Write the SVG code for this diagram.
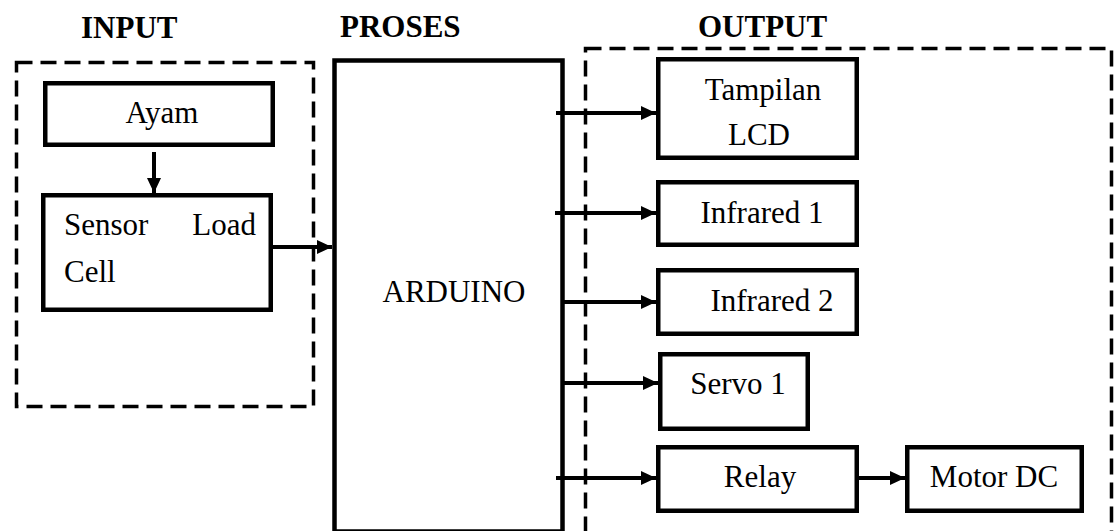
<svg xmlns="http://www.w3.org/2000/svg" width="1115" height="531" viewBox="0 0 1115 531">
<style>
.box{fill:#fff;stroke:#000;stroke-width:4.5}
.dash{fill:none;stroke:#000;stroke-width:3.5;stroke-dasharray:16 8}
.t{font-family:"Liberation Serif","Times New Roman",serif;font-size:31px;fill:#000}
.h{font-family:"Liberation Serif","Times New Roman",serif;font-size:31px;font-weight:bold;fill:#000}
.c{stroke:#000;stroke-width:4;fill:none}
</style>
<defs>
<marker id="ah" markerUnits="userSpaceOnUse" markerWidth="16" markerHeight="14" refX="15" refY="7" orient="auto">
<path d="M0,0 L15,7 L0,14 z" fill="#000"/>
</marker>
</defs>
<rect width="1115" height="531" fill="#fff"/>
<g id="headings">
<text class="h" x="81" y="38">INPUT</text>
<text class="h" x="340" y="37">PROSES</text>
<text class="h" x="698" y="37">OUTPUT</text>
</g>
<g id="groups">
<rect class="dash" x="16.5" y="62.5" width="297" height="344"/>
<rect class="dash" x="585.5" y="48.5" width="526" height="520"/>
</g>
<g id="ayam"><rect class="box" x="45.25" y="83.25" width="227.5" height="61.5"/><text class="t" x="162" y="123" text-anchor="middle">Ayam</text></g>
<g id="sensor"><rect class="box" x="43.25" y="195.25" width="227.5" height="114.5"/><text class="t" x="64" y="235">Sensor</text><text class="t" x="256" y="235" text-anchor="end">Load</text><text class="t" x="64" y="282">Cell</text></g>
<g id="arduino"><rect class="box" x="334.5" y="60.5" width="228" height="471" stroke-width="5"/><text class="t" x="454" y="302" text-anchor="middle">ARDUINO</text></g>
<g id="lcd"><rect class="box" x="658.25" y="59.25" width="198.5" height="98.5"/><text class="t" x="763" y="100" text-anchor="middle">Tampilan</text><text class="t" x="759" y="145" text-anchor="middle">LCD</text></g>
<g id="ir1"><rect class="box" x="658.25" y="182.25" width="198.5" height="62.5"/><text class="t" x="762" y="223" text-anchor="middle">Infrared 1</text></g>
<g id="ir2"><rect class="box" x="658.25" y="270.25" width="198.5" height="63.5"/><text class="t" x="772" y="311" text-anchor="middle">Infrared 2</text></g>
<g id="servo"><rect class="box" x="660.25" y="354.25" width="147.5" height="74.5"/><text class="t" x="738" y="394" text-anchor="middle">Servo 1</text></g>
<g id="relay"><rect class="box" x="658.25" y="447.25" width="198.5" height="63.5"/><text class="t" x="760" y="487" text-anchor="middle">Relay</text></g>
<g id="motor"><rect class="box" x="907.25" y="447.25" width="174.5" height="63.5"/><text class="t" x="994" y="487" text-anchor="middle">Motor DC</text></g>
<g id="connectors">
<line class="c" x1="154" y1="152" x2="154" y2="193" marker-end="url(#ah)"/>
<line class="c" x1="273" y1="247" x2="332" y2="247" marker-end="url(#ah)"/>
<line class="c" x1="556" y1="113" x2="656" y2="113" marker-end="url(#ah)"/>
<line class="c" x1="555" y1="213" x2="656" y2="213" marker-end="url(#ah)"/>
<line class="c" x1="563" y1="302" x2="656" y2="302" marker-end="url(#ah)"/>
<line class="c" x1="563" y1="383" x2="658" y2="383" marker-end="url(#ah)"/>
<line class="c" x1="556" y1="478" x2="656" y2="478" marker-end="url(#ah)"/>
<line class="c" x1="859" y1="478" x2="905" y2="478" marker-end="url(#ah)"/>
</g>
</svg>
